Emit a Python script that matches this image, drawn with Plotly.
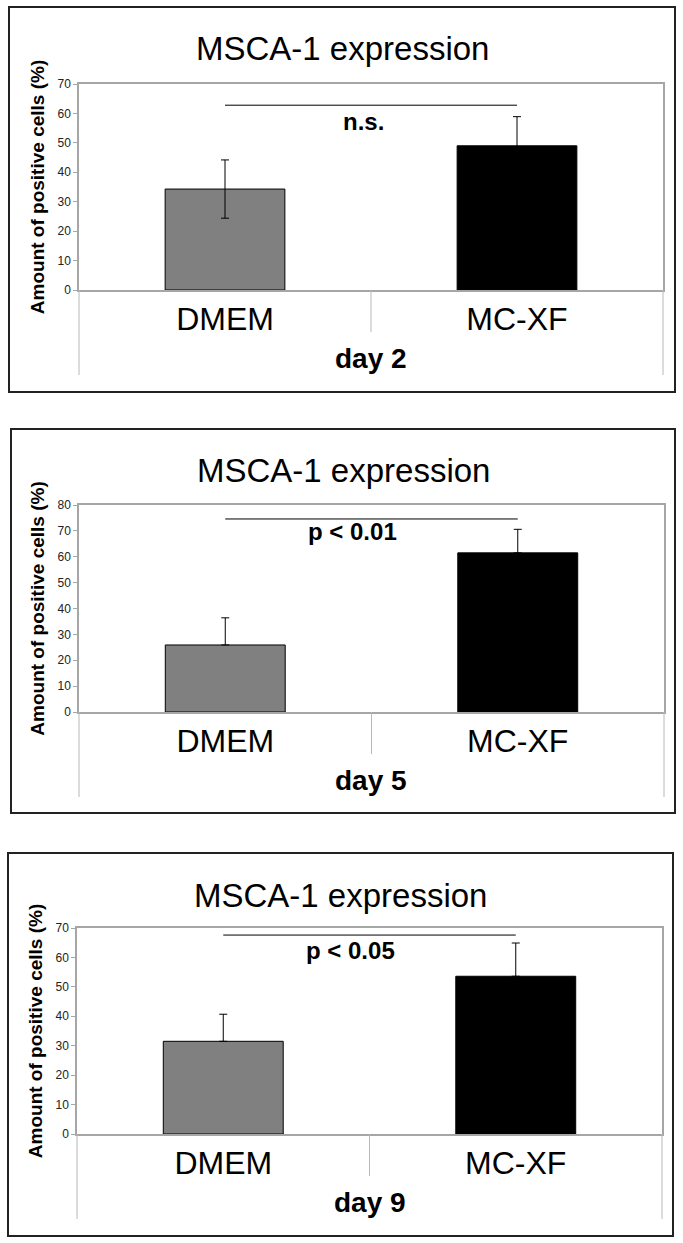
import plotly.graph_objects as go

# values
categories = ["DMEM", "MC-XF"]
bar_colors = ["#808080", "#000000"]

day_labels = ["day 2", "day 5", "day 9"]
mean_day2 = [34.3, 49.0]
mean_day5 = [25.9, 61.5]
mean_day9 = [31.5, 53.6]
sd_day2 = [9.9, 9.9]
sd_day5 = [10.5, 9.1]
sd_day9 = [9.2, 11.3]
y_max = [70, 80, 70]

sig_labels = ["n.s.", "p < 0.01", "p < 0.05"]
sig_line_y = [62.8, 74.6, 67.6]
sig_text_y = [57.4, 69.6, 62.2]

means = [mean_day2, mean_day5, mean_day9]
sds = [sd_day2, sd_day5, sd_day9]
# only the day 2 panel draws the lower whisker
sds_minus = [sd_day2, [0, 0], [0, 0]]

W, H = 683, 1243
FONT = "Liberation Sans, Arial, sans-serif"
GREY = "#a6a6a6"

# pixel boxes: outer frame and plot area for each panel
panels = [
    dict(box=(9, 7, 675, 392), plot=(79, 84, 663, 290)),
    dict(box=(11, 429, 675, 813), plot=(79, 505, 664, 712)),
    dict(box=(8, 853, 673, 1236), plot=(77, 928, 662, 1134)),
]
sig_text_x = [0.476, 0.435, 0.435]

fig = go.Figure()
shapes = []
annotations = []
layout = {}

for i, p in enumerate(panels):
    n = "" if i == 0 else str(i + 1)
    bx0, by0, bx1, by1 = p["box"]
    px0, py0, px1, py1 = p["plot"]

    fig.add_trace(go.Bar(
        x=[0, 1], y=means[i], width=0.41,
        marker=dict(color=bar_colors, line=dict(color="black", width=1)),
        error_y=dict(type="data", symmetric=False, array=sds[i], arrayminus=sds_minus[i],
                     color="black", thickness=1, width=4),
        xaxis="x" + n, yaxis="y" + n, showlegend=False, hoverinfo="y"))

    layout["xaxis" + n] = dict(
        domain=[px0 / W, px1 / W], anchor="y" + n, range=[-0.5, 1.5],
        tickvals=[0, 1], ticktext=categories, ticks="",
        tickfont=dict(size=32, color="black", family=FONT),
        showline=True, mirror=True, linecolor=GREY, linewidth=1.5,
        showgrid=False, zeroline=False, automargin=False, fixedrange=True)
    layout["yaxis" + n] = dict(
        domain=[1 - py1 / H, 1 - py0 / H], anchor="x" + n, range=[0, y_max[i]],
        dtick=10, ticks="outside", ticklen=4, tickcolor=GREY,
        tickfont=dict(size=12, color="#222", family=FONT),
        showline=True, mirror=True, linecolor=GREY, linewidth=1.5,
        showgrid=False, zeroline=False, automargin=False, fixedrange=True,
        title=dict(text="<b>Amount of positive cells (%)</b>", standoff=8,
                   font=dict(size=19, color="black", family=FONT)))

    # outer frame
    shapes.append(dict(type="rect", xref="paper", yref="paper",
                       x0=bx0 / W, x1=bx1 / W, y0=1 - by1 / H, y1=1 - by0 / H,
                       line=dict(color="#222", width=2)))
    # category divider lines under the axis
    for xp, depth in [(px0, 85), (px1, 85), ((px0 + px1) / 2, 42)]:
        shapes.append(dict(type="line", xref="paper", yref="paper",
                           x0=xp / W, x1=xp / W, y0=1 - py1 / H, y1=1 - (py1 + depth) / H,
                           line=dict(color="#b8b8b8", width=1)))
    # significance bar
    shapes.append(dict(type="line", xref="x" + n, yref="y" + n,
                       x0=0, x1=1, y0=sig_line_y[i], y1=sig_line_y[i],
                       line=dict(color="black", width=1)))

    annotations.append(dict(text="MSCA-1 expression", xref="paper", yref="paper",
                            x=(bx0 + bx1) / 2 / W, y=1 - (by0 + 42) / H,
                            showarrow=False, xanchor="center", yanchor="middle",
                            font=dict(size=33, color="black", family=FONT)))
    annotations.append(dict(text="<b>" + sig_labels[i] + "</b>", xref="x" + n, yref="y" + n,
                            x=sig_text_x[i], y=sig_text_y[i], showarrow=False,
                            xanchor="center", yanchor="middle",
                            font=dict(size=24, color="black", family=FONT)))
    annotations.append(dict(text="<b>" + day_labels[i] + "</b>", xref="paper", yref="paper",
                            x=(px0 + px1) / 2 / W, y=1 - (py1 + 68) / H,
                            showarrow=False, xanchor="center", yanchor="middle",
                            font=dict(size=28, color="black", family=FONT)))

fig.update_layout(
    width=W, height=H, autosize=False,
    margin=dict(l=0, r=0, t=0, b=0),
    paper_bgcolor="white", plot_bgcolor="white",
    font=dict(family=FONT, color="black"),
    shapes=shapes, annotations=annotations, **layout)

# drop the default 8px page margin so the figure fills the window exactly
fig.write_html("out.html", config={"displayModeBar": False},
               post_script="document.body.style.margin='0';")
